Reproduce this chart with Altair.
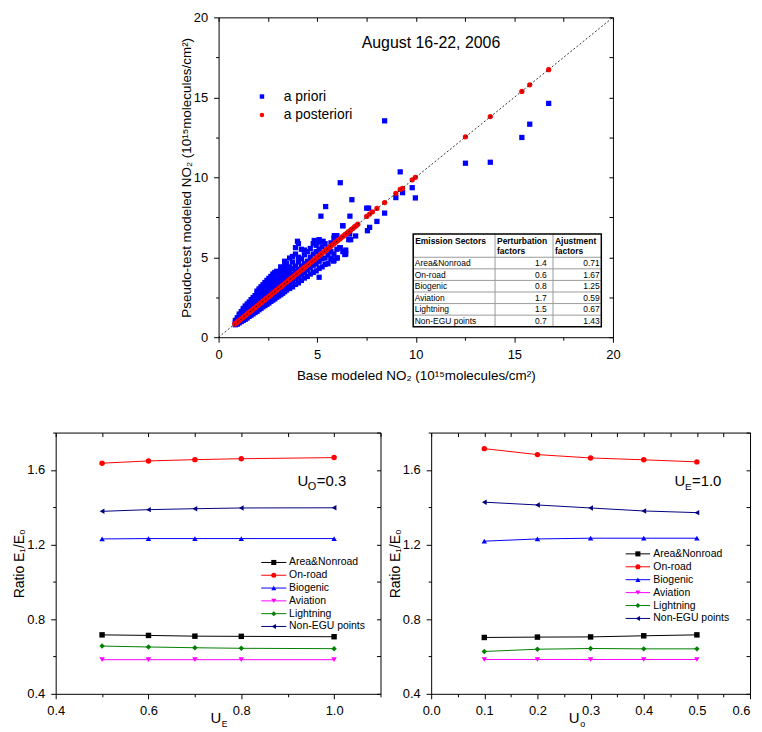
import altair as alt
import pandas as pd

# ------------------------------------------------------------------
# Values
# ------------------------------------------------------------------
# Top panel: base vs pseudo-test modeled NO2 columns (10^15 molecules/cm^2)
a_priori_points = [
    (0.85, 0.78), (0.85, 0.92), (0.85, 1.05),
    (0.95, 0.82), (0.95, 0.98), (0.95, 1.12), (0.95, 1.22),
    (1.05, 0.90), (1.05, 1.05), (1.05, 1.20), (1.05, 1.35), (1.05, 1.45),
    (1.15, 0.98), (1.15, 1.12), (1.15, 1.28), (1.15, 1.44), (1.15, 1.60),
    (1.25, 1.05), (1.25, 1.20), (1.25, 1.36), (1.25, 1.52), (1.25, 1.68), (1.25, 1.80),
    (1.35, 1.12), (1.35, 1.30), (1.35, 1.46), (1.35, 1.62), (1.35, 1.78), (1.35, 1.95),
    (1.45, 1.20), (1.45, 1.38), (1.45, 1.55), (1.45, 1.72), (1.45, 1.90), (1.45, 2.08),
    (1.55, 1.30), (1.55, 1.48), (1.55, 1.66), (1.55, 1.84), (1.55, 2.02), (1.55, 2.20),
    (1.65, 1.38), (1.65, 1.56), (1.65, 1.76), (1.65, 1.96), (1.65, 2.15), (1.65, 2.35),
    (1.75, 1.46), (1.75, 1.66), (1.75, 1.86), (1.75, 2.06), (1.75, 2.28), (1.75, 2.48),
    (1.85, 1.55), (1.85, 1.75), (1.85, 1.96), (1.85, 2.18), (1.85, 2.40), (1.85, 2.60),
    (1.95, 1.62), (1.95, 1.84), (1.95, 2.06), (1.95, 2.30), (1.95, 2.52), (1.95, 2.75), (1.95, 2.88),
    (2.05, 1.72), (2.05, 1.94), (2.05, 2.18), (2.05, 2.42), (2.05, 2.65), (2.05, 2.88), (2.05, 3.02),
    (2.15, 1.80), (2.15, 2.02), (2.15, 2.28), (2.15, 2.52), (2.15, 2.76), (2.15, 3.00), (2.15, 3.15),
    (2.25, 1.90), (2.25, 2.12), (2.25, 2.38), (2.25, 2.62), (2.25, 2.88), (2.25, 3.12), (2.25, 3.28),
    (2.35, 1.98), (2.35, 2.22), (2.35, 2.48), (2.35, 2.74), (2.35, 3.00), (2.35, 3.25), (2.35, 3.42),
    (2.45, 2.06), (2.45, 2.32), (2.45, 2.58), (2.45, 2.84), (2.45, 3.10), (2.45, 3.36), (2.45, 3.55),
    (2.55, 2.14), (2.55, 2.42), (2.55, 2.68), (2.55, 2.95), (2.55, 3.22), (2.55, 3.48), (2.55, 3.68),
    (2.65, 2.24), (2.65, 2.50), (2.65, 2.78), (2.65, 3.05), (2.65, 3.32), (2.65, 3.60), (2.65, 3.80),
    (2.75, 2.32), (2.75, 2.60), (2.75, 2.90), (2.75, 3.16), (2.75, 3.45), (2.75, 3.72), (2.75, 3.95),
    (2.85, 2.40), (2.85, 2.68), (2.85, 3.00), (2.85, 3.28), (2.85, 3.56), (2.85, 3.85), (2.85, 4.05),
    (2.95, 2.50), (2.95, 2.78), (2.95, 3.10), (2.95, 3.40), (2.95, 3.68), (2.95, 3.95), (2.95, 4.12),
    (3.05, 2.58), (3.05, 2.86), (3.05, 3.20), (3.05, 3.50), (3.05, 3.78), (3.05, 4.05),
    (3.15, 2.66), (3.15, 2.95), (3.15, 3.30), (3.15, 3.60), (3.15, 3.90), (3.15, 4.20), (3.15, 4.40),
    (3.25, 2.75), (3.25, 3.05), (3.25, 3.42), (3.25, 3.72), (3.25, 4.00), (3.25, 4.30),
    (3.35, 2.85), (3.35, 3.15), (3.35, 3.52), (3.35, 3.85), (3.35, 4.15), (3.35, 4.45), (3.35, 4.75),
    (3.45, 2.95), (3.45, 3.22), (3.45, 3.62), (3.45, 3.95), (3.45, 4.25), (3.45, 4.60),
    (3.60, 3.05), (3.60, 3.35), (3.60, 3.80), (3.60, 4.10), (3.60, 4.40), (3.60, 4.95),
    (3.75, 3.15), (3.75, 3.50), (3.75, 3.95), (3.75, 4.30), (3.75, 4.70), (3.75, 5.05),
    (3.90, 3.30), (3.90, 3.65), (3.90, 4.10), (3.90, 4.45), (3.90, 5.20), (3.90, 5.60),
    (4.05, 3.40), (4.05, 3.75), (4.05, 4.25), (4.05, 4.70), (4.05, 5.00), (4.05, 5.85),
    (4.20, 3.55), (4.20, 3.90), (4.20, 4.45), (4.20, 4.90), (4.20, 5.50), (4.00, 6.00),
    (4.35, 3.70), (4.35, 4.05), (4.35, 4.60), (4.35, 5.15), (4.35, 5.45),
    (4.50, 3.80), (4.50, 4.20), (4.50, 4.75), (4.50, 5.35),
    (4.65, 3.95), (4.65, 4.35), (4.65, 5.00), (4.65, 5.55),
    (4.80, 4.05), (4.80, 4.50), (4.80, 5.20), (4.80, 5.85), (4.85, 6.05),
    (4.95, 4.15), (4.95, 4.60), (4.95, 5.35), (4.95, 5.75),
    (5.10, 3.75), (5.10, 4.30), (5.10, 4.75), (5.10, 5.50), (5.10, 5.95), (5.10, 6.10),
    (5.25, 4.40), (5.25, 4.90), (5.25, 5.65), (5.30, 6.00),
    (5.40, 4.55), (5.40, 4.95), (5.40, 5.85),
    (5.55, 4.60), (5.55, 5.15), (5.55, 5.55),
    (5.70, 4.90), (5.70, 5.35), (5.70, 5.90),
    (5.85, 4.80), (5.85, 5.20), (5.85, 6.20),
    (6.00, 4.95), (6.00, 5.50), (6.00, 6.35),
    (6.15, 5.60), (6.30, 5.35), (6.30, 6.97), (6.45, 5.20), (6.45, 5.45),
    (6.60, 6.10), (6.65, 6.45), (6.95, 6.33), (6.70, 6.10),
    (8.42, 13.53), (16.74, 14.62), (15.78, 13.32), (15.38, 12.49), (12.52, 10.88),
    (13.78, 10.94), (9.21, 10.34), (6.17, 9.66), (9.82, 9.35), (9.98, 8.71),
    (8.99, 8.73), (9.33, 9.04), (5.43, 8.17), (6.76, 8.60), (5.19, 7.57),
    (6.66, 7.57), (7.51, 8.07), (7.61, 8.07), (8.42, 7.76), (8.03, 7.24),
    (7.66, 6.87), (7.55, 6.66), (6.30, 6.97), (5.87, 6.35), (6.17, 5.60),
    (6.40, 5.17), (5.83, 4.76), (6.02, 4.96), (5.71, 4.90),
]

a_posteriori_points = [
    (0.82, 0.83), (0.90, 0.89), (0.98, 0.99), (1.06, 1.05), (1.14, 1.15), (1.22, 1.21),
    (1.30, 1.31), (1.38, 1.37), (1.46, 1.47), (1.54, 1.53), (1.62, 1.63), (1.70, 1.69),
    (1.78, 1.79), (1.86, 1.85), (1.94, 1.95), (2.02, 2.01), (2.10, 2.11), (2.18, 2.17),
    (2.26, 2.27), (2.34, 2.33), (2.42, 2.43), (2.50, 2.49), (2.58, 2.59), (2.66, 2.65),
    (2.74, 2.75), (2.82, 2.81), (2.90, 2.91), (2.98, 2.97), (3.06, 3.07), (3.14, 3.13),
    (3.22, 3.23), (3.30, 3.29), (3.38, 3.39), (3.46, 3.45), (3.54, 3.55), (3.62, 3.61),
    (3.70, 3.71), (3.78, 3.77), (3.86, 3.87), (3.94, 3.93), (4.02, 4.03), (4.10, 4.09),
    (4.18, 4.19), (4.26, 4.25), (4.34, 4.35), (4.42, 4.41), (4.50, 4.51), (4.58, 4.57),
    (4.66, 4.67), (4.74, 4.73), (4.82, 4.83), (4.90, 4.89), (4.98, 4.99), (5.06, 5.05),
    (5.14, 5.15), (5.22, 5.21), (5.30, 5.31), (5.38, 5.37), (5.46, 5.47), (5.54, 5.53),
    (5.62, 5.63), (5.70, 5.69), (5.78, 5.79), (5.86, 5.85), (5.94, 5.95), (6.02, 6.01),
    (6.10, 6.11), (6.18, 6.17), (6.26, 6.27), (6.34, 6.33), (6.42, 6.43), (6.50, 6.49),
    (6.58, 6.59), (6.66, 6.65), (6.74, 6.75), (6.82, 6.81), (6.90, 6.91), (6.98, 6.97),
    (7.06, 7.07),
    (7.51, 7.55), (7.66, 7.70), (7.80, 7.84), (8.03, 8.05), (8.42, 8.42), (8.99, 9.00),
    (9.21, 9.24), (9.33, 9.31), (9.82, 9.84), (9.98, 10.00), (12.52, 12.53),
    (13.78, 13.80), (15.38, 15.37), (15.78, 15.78), (16.74, 16.73),
]

one_to_one = [0, 20]

series_names = ["a priori", "a posteriori"]
series_colors = ["#0000ff", "#ff0000"]
series_shapes = ["square", "circle"]

plot_title = "August 16-22, 2006"

# Inset table
table_header_1 = ["Emission Sectors", "Perturbation", "Ajustment"]
table_header_2 = ["", "factors", "factors"]
table_sectors = ["Area&Nonroad", "On-road", "Biogenic", "Aviation", "Lightning", "Non-EGU points"]
table_perturbation = ["1.4", "0.6", "0.8", "1.7", "1.5", "0.7"]
table_adjustment = ["0.71", "1.67", "1.25", "0.59", "0.67", "1.43"]

# Bottom panels
sector_names = ["Area&Nonroad", "On-road", "Biogenic", "Aviation", "Lightning", "Non-EGU points"]
sector_colors = ["#000000", "#ff0000", "#0000ff", "#ff00ff", "#008000", "#000080"]
sector_shapes = ["square", "circle", "triangle-up", "triangle-down", "diamond", "triangle-left"]

ue_values = [0.5, 0.6, 0.7, 0.8, 1.0]
ratio_by_ue = {
    "Area&Nonroad": [0.716, 0.713, 0.709, 0.708, 0.706],
    "On-road": [1.636, 1.648, 1.655, 1.660, 1.666],
    "Biogenic": [1.230, 1.232, 1.232, 1.232, 1.232],
    "Aviation": [0.583, 0.583, 0.583, 0.583, 0.583],
    "Lightning": [0.656, 0.651, 0.647, 0.644, 0.642],
    "Non-EGU points": [1.378, 1.387, 1.392, 1.396, 1.397],
}

uo_values = [0.1, 0.2, 0.3, 0.4, 0.5]
ratio_by_uo = {
    "Area&Nonroad": [0.702, 0.704, 0.705, 0.711, 0.716],
    "On-road": [1.714, 1.682, 1.664, 1.654, 1.643],
    "Biogenic": [1.218, 1.230, 1.234, 1.234, 1.234],
    "Aviation": [0.584, 0.584, 0.584, 0.584, 0.584],
    "Lightning": [0.627, 0.639, 0.643, 0.641, 0.641],
    "Non-EGU points": [1.427, 1.412, 1.396, 1.380, 1.371],
}

top_major = [0, 5, 10, 15, 20]
top_minor = [2.5, 7.5, 12.5, 17.5]
ue_major = [0.4, 0.6, 0.8, 1.0]
ue_minor = [0.5, 0.7, 0.9, 1.1]
uo_major = [0.0, 0.1, 0.2, 0.3, 0.4, 0.5, 0.6]
uo_minor = [0.05, 0.15, 0.25, 0.35, 0.45, 0.55]
ratio_major = [0.4, 0.8, 1.2, 1.6]
ratio_minor = [0.6, 1.0, 1.4, 1.8]

# ------------------------------------------------------------------
# Styling / layout
# ------------------------------------------------------------------
FONT = "Liberation Sans"


def axis_main(orient, values, fmt, title, label_size=13, title_size=14, title_pad=0, label_pad=6, **extra):
    return alt.Axis(
        orient=orient, values=values, format=fmt,
        labelOverlap=False, labelFlush=False, labelFont=FONT, labelFontSize=label_size,
        labelColor="black", labelPadding=label_pad,
        tickSize=5, tickColor="black", tickWidth=1,
        domain=False, grid=False, title=title, titleFont=FONT, titleFontSize=title_size,
        titleFontWeight="normal", titleColor="black", titlePadding=title_pad, **extra,
    )


def axis_ticks_only(orient, values, size):
    return alt.Axis(
        orient=orient, values=values, labels=False, domain=False, grid=False, title=None,
        tickSize=size, tickColor="black", tickWidth=1,
    )


def frame_layers(df, xf, yf, xs, ys, x_major, x_minor, y_major, y_minor):
    """Invisible layers that only carry the minor ticks and the mirrored top/right ticks."""
    minor = alt.Chart(df).mark_point(opacity=0).encode(
        x=alt.X(xf, scale=xs, axis=axis_ticks_only("bottom", x_minor, 3)),
        y=alt.Y(yf, scale=ys, axis=axis_ticks_only("left", y_minor, 3)),
    )
    mirror = alt.Chart(df).mark_point(opacity=0).encode(
        x=alt.X(xf, scale=xs, axis=axis_ticks_only("top", x_major + x_minor, {"expr": "-4"})),
        y=alt.Y(yf, scale=ys, axis=axis_ticks_only("right", y_major + y_minor, {"expr": "-4"})),
    )
    return [minor, mirror]


# ------------------------------------------------------------------
# Top scatter chart
# ------------------------------------------------------------------
scatter_df = pd.DataFrame(
    [{"base": b, "test": t, "series": "a priori"} for b, t in a_priori_points]
    + [{"base": b, "test": t, "series": "a posteriori"} for b, t in a_posteriori_points]
)
diag_df = pd.DataFrame({"base": one_to_one, "test": one_to_one})

x_top = alt.Scale(domain=[0, 20], nice=False, zero=False)
y_top = alt.Scale(domain=[0, 20], nice=False, zero=False)
series_color = alt.Color("series:N", scale=alt.Scale(domain=series_names, range=series_colors), legend=None)
series_shape = alt.Shape("series:N", scale=alt.Scale(domain=series_names, range=series_shapes), legend=None)

points = alt.Chart(scatter_df).mark_point(filled=True, opacity=1, size=28, strokeWidth=0).encode(
    x=alt.X("base:Q", scale=x_top,
            axis=axis_main("bottom", top_major, "d", "Base modeled NO₂ (10¹⁵molecules/cm²)",
                           title_size=13.5, title_pad=8)),
    y=alt.Y("test:Q", scale=y_top,
            axis=axis_main("left", top_major, "d", "Pseudo-test modeled NO₂ (10¹⁵molecules/cm²)",
                           title_size=13.5, title_pad=0)),
    color=series_color, shape=series_shape,
)

# legend drawn inside the plot (positions in data units of the scatter)
top_leg_df = pd.DataFrame({"series": series_names, "lx": [2.2, 2.2], "tx": [3.3, 3.3], "ly": [15.05, 13.9]})
top_leg_pts = alt.Chart(top_leg_df).mark_point(filled=True, opacity=1, size=20, strokeWidth=0).encode(
    x=alt.X("lx:Q", scale=x_top, axis=None), y=alt.Y("ly:Q", scale=y_top, axis=None),
    color=series_color, shape=series_shape,
)
top_leg_txt = alt.Chart(top_leg_df).mark_text(
    align="left", baseline="middle", font=FONT, fontSize=14, color="black"
).encode(
    x=alt.X("tx:Q", scale=x_top, axis=None), y=alt.Y("ly:Q", scale=y_top, axis=None), text="series:N",
)

diag = alt.Chart(diag_df).mark_line(color="black", strokeWidth=0.8, strokeDash=[2, 2]).encode(
    x=alt.X("base:Q", scale=x_top, axis=None),
    y=alt.Y("test:Q", scale=y_top, axis=None),
)

title_df = pd.DataFrame({"base": [10.77], "test": [18.42], "label": [plot_title]})
title_mark = alt.Chart(title_df).mark_text(font=FONT, fontSize=16, color="black").encode(
    x=alt.X("base:Q", scale=x_top, axis=None),
    y=alt.Y("test:Q", scale=y_top, axis=None),
    text="label:N",
)

# table geometry (in the scatter's data units)
TBL_X = [9.87, 14.02, 16.96, 19.41]
TBL_TOP, TBL_HEAD, TBL_ROW = 6.45, 5.0, 0.724
TBL_BOTTOM = TBL_HEAD - 6 * TBL_ROW

box_df = pd.DataFrame({"x0": [TBL_X[0]], "x1": [TBL_X[3]], "y0": [TBL_BOTTOM], "y1": [TBL_TOP]})


def tbl_enc(chart):
    return chart.encode(
        x=alt.X("x0:Q", scale=x_top, axis=None), x2="x1:Q",
        y=alt.Y("y0:Q", scale=y_top, axis=None), y2="y1:Q",
    )


box_fill = tbl_enc(alt.Chart(box_df).mark_rect(fill="white", strokeWidth=0))
box_line = tbl_enc(alt.Chart(box_df).mark_rect(fill="white", fillOpacity=0, stroke="black", strokeWidth=1.5))

grid_rows = [
    {"x0": TBL_X[1], "x1": TBL_X[1], "y0": TBL_BOTTOM, "y1": TBL_TOP},
    {"x0": TBL_X[2], "x1": TBL_X[2], "y0": TBL_BOTTOM, "y1": TBL_TOP},
]
for i in range(6):
    yv = TBL_HEAD - i * TBL_ROW
    grid_rows.append({"x0": TBL_X[0], "x1": TBL_X[3], "y0": yv, "y1": yv})
grid = tbl_enc(alt.Chart(pd.DataFrame(grid_rows)).mark_rule(color="#9a9a9a", strokeWidth=1))

head_rows = []
for j in range(3):
    head_rows.append({"tx": TBL_X[j] + 0.1, "ty": 6.04, "label": table_header_1[j]})
    if table_header_2[j]:
        head_rows.append({"tx": TBL_X[j] + 0.1, "ty": 5.42, "label": table_header_2[j]})
row_y = [TBL_HEAD - (i + 0.5) * TBL_ROW for i in range(6)]
sector_rows = [{"tx": TBL_X[0] + 0.08, "ty": row_y[i], "label": s} for i, s in enumerate(table_sectors)]
value_rows = (
    [{"tx": TBL_X[2] - 0.32, "ty": row_y[i], "label": v} for i, v in enumerate(table_perturbation)]
    + [{"tx": TBL_X[3] - 0.08, "ty": row_y[i], "label": v} for i, v in enumerate(table_adjustment)]
)


def tbl_text(rows, align, weight):
    return alt.Chart(pd.DataFrame(rows)).mark_text(
        align=align, baseline="middle", font=FONT, fontSize=8.5, fontWeight=weight, color="black"
    ).encode(
        x=alt.X("tx:Q", scale=x_top, axis=None),
        y=alt.Y("ty:Q", scale=y_top, axis=None),
        text="label:N",
    )


head_text = tbl_text(head_rows, "left", "bold")
sector_text = tbl_text(sector_rows, "left", "normal")
value_text = tbl_text(value_rows, "right", "normal")

top_chart = alt.layer(
    points, diag, top_leg_pts, top_leg_txt, box_fill, grid, box_line, head_text, sector_text, value_text,
    title_mark,
    *frame_layers(diag_df, "base:Q", "test:Q", x_top, y_top, top_major, top_minor, top_major, top_minor),
).resolve_scale(x="independent", y="independent").properties(width=397, height=322)


# ------------------------------------------------------------------
# Bottom panels
# ------------------------------------------------------------------
def ratio_panel(x_values, ratios, x_domain, x_major, x_minor, width,
                leg_x, leg_y0, leg_step, note_xy, note_parts, title_parts, x_axis_extra):
    rows = []
    for name in sector_names:
        for u, r in zip(x_values, ratios[name]):
            rows.append({"u": u, "ratio": r, "series": name})
    df = pd.DataFrame(rows)

    xs = alt.Scale(domain=x_domain, nice=False, zero=False)
    ys = alt.Scale(domain=[0.4, 1.8], nice=False, zero=False)
    color = alt.Color("series:N", scale=alt.Scale(domain=sector_names, range=sector_colors), legend=None)
    shape = alt.Shape("series:N", scale=alt.Scale(domain=sector_names, range=sector_shapes), legend=None)

    lines = alt.Chart(df).mark_line(strokeWidth=1).encode(
        x=alt.X("u:Q", scale=xs, axis=axis_main("bottom", x_major, ".1f", None, label_pad=6, **x_axis_extra)),
        y=alt.Y("ratio:Q", scale=ys, axis=axis_main("left", ratio_major, ".1f", "Ratio E₁/E₀",
                                                     title_size=14, title_pad=0)),
        color=color,
    )
    marks = alt.Chart(df).mark_point(filled=True, opacity=1, size=30, strokeWidth=0).encode(
        x=alt.X("u:Q", scale=xs, axis=None),
        y=alt.Y("ratio:Q", scale=ys, axis=None),
        color=color, shape=shape,
    )

    lx0, lx1, lxm, lxt = leg_x
    leg_df = pd.DataFrame({
        "series": sector_names,
        "ly": [leg_y0 - i * leg_step for i in range(len(sector_names))],
        "lx0": [lx0] * 6, "lx1": [lx1] * 6, "lxm": [lxm] * 6, "lxt": [lxt] * 6,
    })
    leg_rule = alt.Chart(leg_df).mark_rule(strokeWidth=1).encode(
        x=alt.X("lx0:Q", scale=xs, axis=None), x2="lx1:Q",
        y=alt.Y("ly:Q", scale=ys, axis=None), color=color,
    )
    leg_pts = alt.Chart(leg_df).mark_point(filled=True, opacity=1, size=26, strokeWidth=0).encode(
        x=alt.X("lxm:Q", scale=xs, axis=None),
        y=alt.Y("ly:Q", scale=ys, axis=None), color=color, shape=shape,
    )
    leg_txt = alt.Chart(leg_df).mark_text(
        align="left", baseline="middle", font=FONT, fontSize=10.5, color="black"
    ).encode(
        x=alt.X("lxt:Q", scale=xs, axis=None),
        y=alt.Y("ly:Q", scale=ys, axis=None), text="series:N",
    )

    note_df = pd.DataFrame({"nx": [note_xy[0]], "ny": [note_xy[1]]})
    note_layers = []
    for text, size, dx, dy in note_parts:
        note_layers.append(
            alt.Chart(note_df).mark_text(
                align="left", baseline="middle", font=FONT, fontSize=size, color="black", dx=dx, dy=dy
            ).encode(
                x=alt.X("nx:Q", scale=xs, axis=None),
                y=alt.Y("ny:Q", scale=ys, axis=None),
                text=alt.value(text),
            )
        )

    title_layers = []
    for text, size, px, py in title_parts:
        title_layers.append(
            alt.Chart(note_df).mark_text(
                align="center", baseline="middle", font=FONT, fontSize=size, color="black"
            ).encode(x=alt.value(px), y=alt.value(py), text=alt.value(text))
        )

    frame_df = pd.DataFrame({"u": x_domain, "ratio": [0.4, 1.8]})
    return alt.layer(
        lines, marks, leg_rule, leg_pts, leg_txt, *note_layers, *title_layers,
        *frame_layers(frame_df, "u:Q", "ratio:Q", xs, ys, x_major, x_minor, ratio_major, ratio_minor),
    ).resolve_scale(x="independent", y="independent").properties(width=width, height=263)


left_panel = ratio_panel(
    ue_values, ratio_by_ue, [0.4, 1.1], ue_major, ue_minor, 327,
    (0.843, 0.897, 0.870, 0.903), 1.104, 0.0686,
    (0.921, 1.539), [("U", 15, 0, 0), ("O", 11, 10.5, 6), ("=0.3", 15, 19.5, 0)],
    [("U", 15, 161.3, 287), ("E", 8.5, 170, 293)],
    {},
)

right_panel = ratio_panel(
    uo_values, ratio_by_uo, [0.0, 0.6], uo_major, uo_minor, 321,
    (0.366, 0.412, 0.389, 0.418), 1.150, 0.0692,
    (0.458, 1.539), [("U", 15, 0, 0), ("E", 10, 10.5, 6), ("=1.0", 15, 17.5, 0)],
    [("U", 15, 144, 287), ("o", 9, 152.5, 293)],
    {"labelAlign": {"condition": {"test": "datum.value > 0.55", "value": "right"}, "value": "center"}},
)

spacer = alt.Chart(pd.DataFrame({"v": [0]})).mark_point(opacity=0).encode(
    x=alt.value(0), y=alt.value(0)
).properties(width=104, height=20, view=alt.ViewBackground(stroke="transparent", strokeWidth=0))

row1 = alt.hconcat(spacer, top_chart, spacing=20)
row2 = alt.hconcat(left_panel, right_panel, spacing=3)

chart = alt.vconcat(row1, row2, spacing=46).resolve_scale(
    color="independent", shape="independent"
).properties(
    padding={"left": 4, "top": 0, "right": 0, "bottom": 0}
).configure(font=FONT).configure_view(stroke="black", strokeWidth=1)

chart.save("out.html", embed_options={"renderer": "svg", "actions": False})
